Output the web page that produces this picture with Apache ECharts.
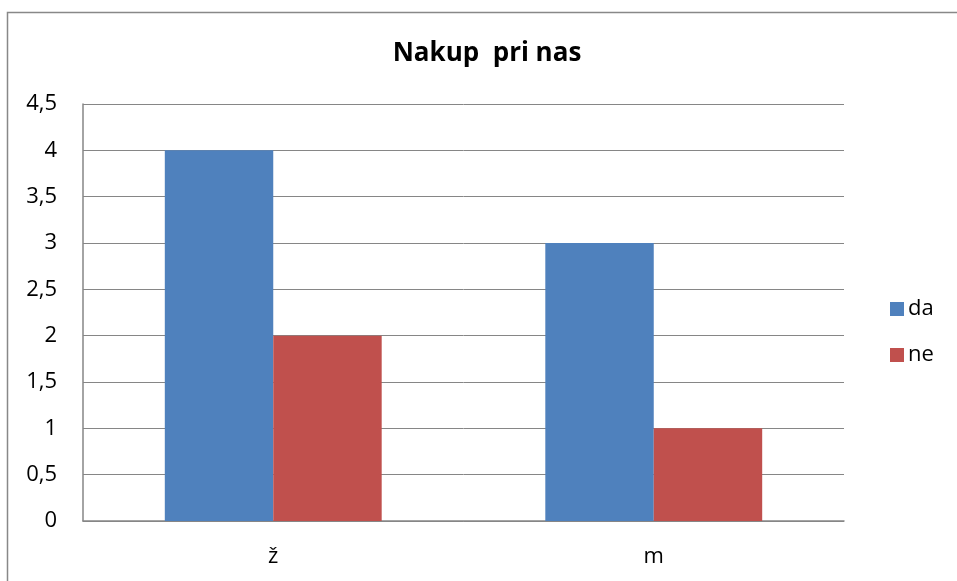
<!DOCTYPE html>
<html>
<head>
<meta charset="utf-8">
<script src="https://cdn.jsdelivr.net/npm/echarts@6/dist/echarts.min.js"></script>
<style>html,body{margin:0;padding:0;background:#fff}#c{width:957px;height:581px}</style>
</head>
<body>
<div id="c"></div>
<script>
const titleText = 'Nakup  pri nas';
const categories = ['ž', 'm'];
const seriesNames = ['da', 'ne'];
const daValues = [4, 3];
const neValues = [2, 1];
const colors = ['#4F81BD', '#C0504D'];

const chart = echarts.init(document.getElementById('c'), null, {renderer: 'canvas'});
const font = '"Open Sans", "Liberation Sans", sans-serif';
chart.setOption({
  animation: false,
  textStyle: {fontFamily: font},
  graphic: [{
    type: 'rect', shape: {x: 7.5, y: 12.5, width: 1000, height: 1000},
    style: {fill: 'none', stroke: '#888', lineWidth: 1.5}, silent: true, z: -1
  }],
  title: {
    text: titleText, left: 482, top: 36, textAlign: 'center',
    textStyle: {fontFamily: font, fontWeight: 'bold', fontSize: 26, color: '#000'}
  },
  legend: {
    orient: 'vertical', left: 885, top: 293, itemGap: 24,
    itemWidth: 14, itemHeight: 14, icon: 'rect',
    textStyle: {fontFamily: font, fontSize: 22, color: '#000', padding: [0,0,0,-1]},
    data: seriesNames
  },
  grid: {left: 83, right: 113, top: 104, bottom: 60, containLabel: false},
  xAxis: {
    type: 'category', data: categories,
    axisLine: {lineStyle: {color: '#868686', width: 1.5}},
    axisTick: {show: false},
    axisLabel: {color: '#000', fontSize: 22, margin: 25, fontFamily: font}
  },
  yAxis: {
    type: 'value', min: 0, max: 4.5, interval: 0.5,
    axisLine: {show: true, lineStyle: {color: '#868686', width: 1.5}},
    axisTick: {show: false},
    splitLine: {lineStyle: {color: '#868686', width: 1}},
    axisLabel: {color: '#000', fontSize: 22, margin: 26, fontFamily: font,
      formatter: v => String(v).replace('.', ',')}
  },
  series: [
    {name: seriesNames[0], type: 'bar', data: daValues, itemStyle: {color: colors[0]}, barGap: '0%', barCategoryGap: '43%'},
    {name: seriesNames[1], type: 'bar', data: neValues, itemStyle: {color: colors[1]}, barGap: '0%', barCategoryGap: '43%'}
  ]
});
</script>
</body>
</html>
